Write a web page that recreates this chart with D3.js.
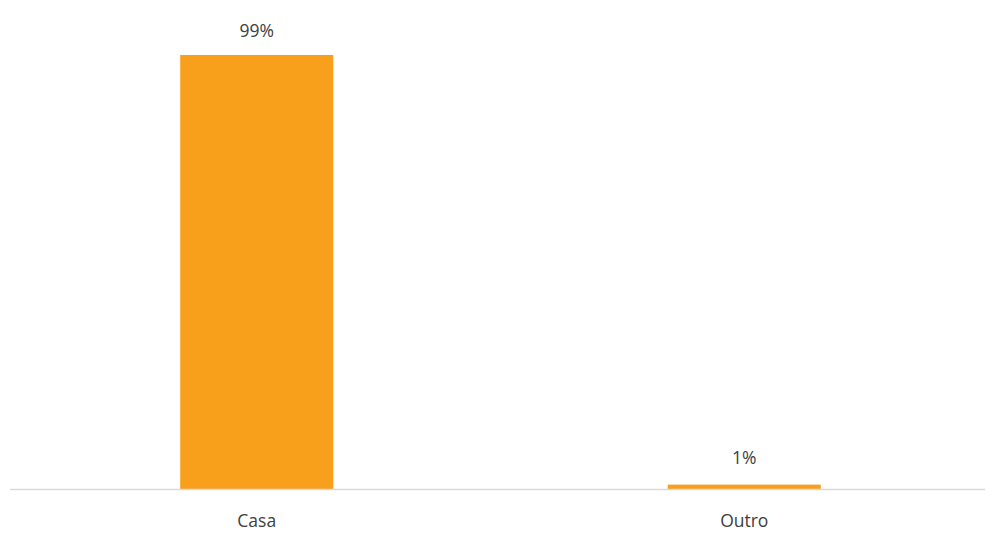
<!DOCTYPE html>
<html><head><meta charset="utf-8">
<script src="https://cdn.jsdelivr.net/npm/d3@7"></script>
<style>body{margin:0;background:#fff}svg{display:block}</style>
</head><body>
<svg id="c" width="994" height="533"></svg>
<script>
const categories = ["Casa", "Outro"];
const values = [0.99, 0.01];
const labels = ["99%", "1%"];

const svg = d3.select("#c");
const x = d3.scaleBand().domain(categories).range([13, 988]).paddingInner(0.686).paddingOuter(0.343);
const y = d3.scaleLinear().domain([0, 1]).range([489, 50.6]);

svg.selectAll("rect.bar").data(categories).join("rect")
  .attr("class","bar")
  .attr("x", d => x(d)).attr("width", x.bandwidth())
  .attr("y", (d,i) => y(values[i])).attr("height", (d,i) => y(0) - y(values[i]))
  .attr("fill", "#F89F1C");

svg.append("line").attr("x1",10).attr("x2",985).attr("y1",489.5).attr("y2",489.5)
  .attr("stroke","#d9d9d9").attr("stroke-width",1.3);

svg.selectAll("text.val").data(categories).join("text")
  .attr("class","val")
  .attr("x", d => x(d) + x.bandwidth()/2)
  .attr("y", (d,i) => y(values[i]) - (i === 0 ? 18 : 21))
  .attr("text-anchor","middle")
  .attr("font-family","'Open Sans', sans-serif").attr("font-size",17.5)
  .attr("fill","#404040")
  .text((d,i) => labels[i]);

const xa = svg.append("g").attr("transform","translate(0,489)")
  .call(d3.axisBottom(x).tickSize(0).tickPadding(26));
xa.select(".domain").remove();
xa.selectAll("text").attr("font-family","'Open Sans', sans-serif").attr("font-size",17.5).attr("fill","#404040");
</script>
</body></html>
